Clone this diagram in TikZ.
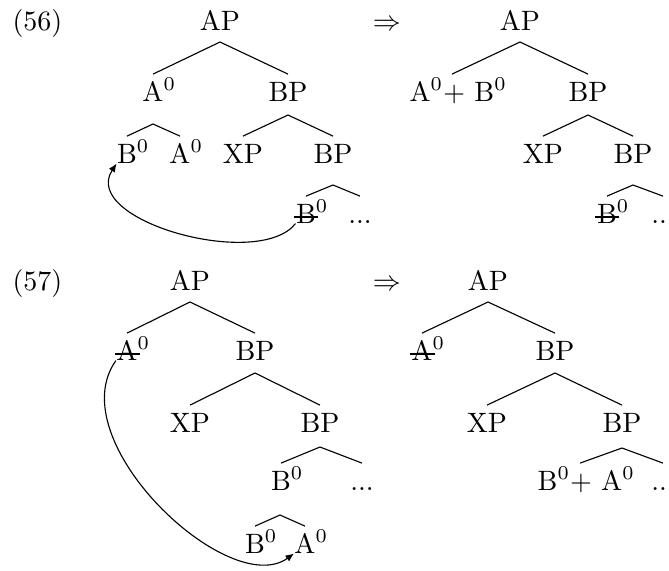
\documentclass[tikz,border=0pt]{standalone}
\usetikzlibrary{arrows.meta}
\newcommand\strk[1]{\setbox0\hbox{#1}\rlap{\kern-0.7pt\rule[1.95pt]{\dimexpr\wd0+1.5pt\relax}{0.7pt}}\box0}
\begin{document}
\begin{tikzpicture}[x=0.357pt, y=-0.357pt,
  lab/.style={inner sep=0pt, anchor=base, text height=9.4pt, text depth=0pt},
  br/.style={line width=0.4pt},
  mv/.style={line width=0.4pt, -{Latex[length=3pt,width=2.6pt]}}]
\useasboundingbox (0,0) rectangle (669,570);
% ---------- (56) left
\node[lab, anchor=base west] (n56) at (12,30) {(56)};
\node[lab] (ap1) at (220,30) {AP};
\coordinate (t1) at (220,42);
\node[lab] (a1) at (153,101) {A\rlap{$^0$}};
\node[lab] (bp1) at (288,101) {BP};
\coordinate (t2) at (153,124);
\node[lab] (b1) at (127,163) {B\rlap{$^0$}};
\node[lab] (a2) at (180,163) {A\rlap{$^0$}};
\coordinate (t3) at (288,115);
\node[lab] (xp1) at (243,163) {XP};
\node[lab] (bp2) at (333,163) {BP};
\coordinate (t4) at (333,185);
\node[lab] (b2) at (306,223) {\strk{B}\rlap{$^0$}};
\node[lab] (d1) at (360,223) {...};
\draw[br] (a1.north) -- (t1) -- (bp1.north);
\draw[br] (b1.north) -- (t2) -- (a2.north);
\draw[br] (xp1.north) -- (t3) -- (bp2.north);
\draw[br] (b2.north) -- (t4) -- (d1.north);
\draw[mv] (b2.south west) .. controls +(-37,47) and +(-37,57) .. (b1.south west);
% ---------- (56) right
\node[lab] (imp1) at (387,30) {$\Rightarrow$};
\node[lab] (ap2) at (520,30) {AP};
\coordinate (t5) at (520,42);
\node[lab] (ab) at (452,101) {A$^0$+ B\rlap{$^0$}};
\node[lab] (bp3) at (588,101) {BP};
\coordinate (t6) at (588,115);
\node[lab] (xp2) at (543,163) {XP};
\node[lab] (bp4) at (633,163) {BP};
\coordinate (t7) at (633,185);
\node[lab] (b3) at (607,223) {\strk{B}\rlap{$^0$}};
\node[lab] (d2) at (663,223) {...};
\draw[br] (ab.north) -- (t5) -- (bp3.north);
\draw[br] (xp2.north) -- (t6) -- (bp4.north);
\draw[br] (b3.north) -- (t7) -- (d2.north);
% ---------- (57) left
\node[lab, anchor=base west] (n57) at (12,290) {(57)};
\node[lab] (ap3) at (190,290) {AP};
\coordinate (t8) at (190,302);
\node[lab] (a3) at (127,360) {\strk{A}\rlap{$^0$}};
\node[lab] (bp5) at (255,360) {BP};
\coordinate (t9) at (255,373);
\node[lab] (xp3) at (190,432) {XP};
\node[lab] (bp6) at (320,432) {BP};
\coordinate (t10) at (320,447);
\node[lab] (b4) at (281,490) {B\rlap{$^0$}};
\node[lab] (d3) at (362,490) {...};
\coordinate (t11) at (280,515);
\node[lab] (b5) at (255,553) {B\rlap{$^0$}};
\node[lab] (a4) at (305,553) {A\rlap{$^0$}};
\draw[br] (a3.north) -- (t8) -- (bp5.north);
\draw[br] (xp3.north) -- (t9) -- (bp6.north);
\draw[br] (b4.north) -- (t10) -- (d3.north);
\draw[br] (b5.north) -- (t11) -- (a4.north);
\draw[mv] (a3.south west) .. controls +(-57,80) and +(-65,47) .. (a4.south west);
% ---------- (57) right
\node[lab] (imp2) at (387,290) {$\Rightarrow$};
\node[lab] (ap4) at (488,290) {AP};
\coordinate (t12) at (488,302);
\node[lab] (a5) at (422,360) {\strk{A}\rlap{$^0$}};
\node[lab] (bp7) at (555,360) {BP};
\coordinate (t13) at (555,373);
\node[lab] (xp4) at (487,432) {XP};
\node[lab] (bp8) at (622,432) {BP};
\coordinate (t14) at (622,448);
\node[lab] (ba) at (580,490) {B$^0$+ A\rlap{$^0$}};
\node[lab] (d4) at (663,490) {...};
\draw[br] (a5.north) -- (t12) -- (bp7.north);
\draw[br] (xp4.north) -- (t13) -- (bp8.north);
\draw[br] (ba.north) -- (t14) -- (d4.north);
\end{tikzpicture}
\end{document}
